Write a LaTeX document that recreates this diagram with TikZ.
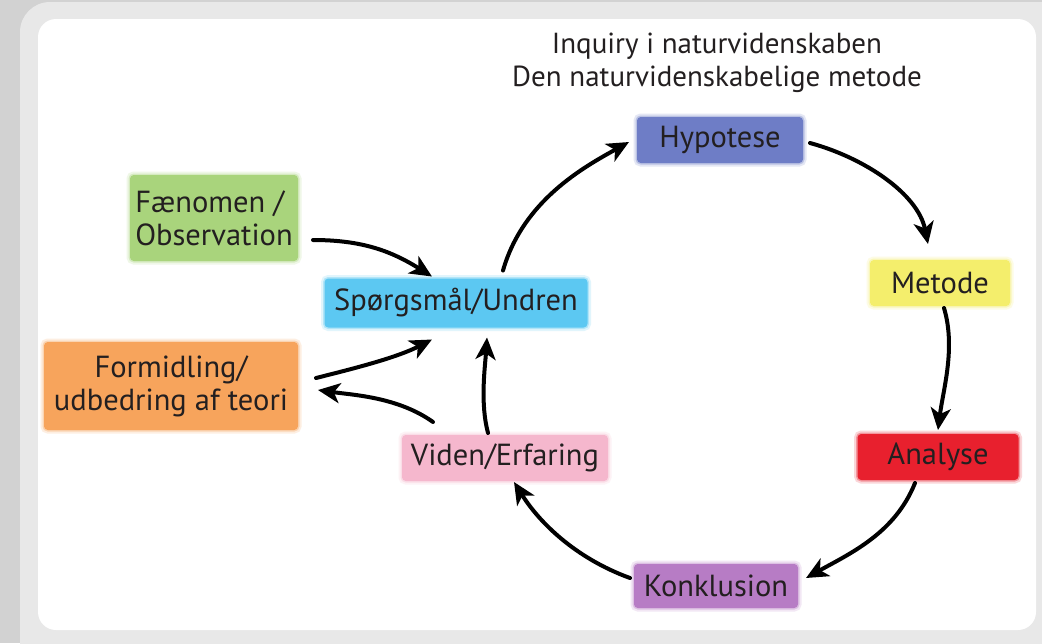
\documentclass[tikz,border=0pt]{standalone}
\usepackage{fontspec}
\setmainfont{PT Sans}
\usetikzlibrary{arrows.meta,calc}
\definecolor{txt}{HTML}{231F20}
\definecolor{cHyp}{HTML}{6E7DC6}
\definecolor{cMet}{HTML}{F4EE6C}
\definecolor{cAna}{HTML}{E8202E}
\definecolor{cKon}{HTML}{B77CC5}
\definecolor{cVid}{HTML}{F5B7CD}
\definecolor{cSpq}{HTML}{5CC8F2}
\definecolor{cFen}{HTML}{A9D47C}
\definecolor{cFor}{HTML}{F7A45C}
\definecolor{bgdark}{HTML}{D2D2D2}
\definecolor{bglight}{HTML}{E8E8E8}
\begin{document}
\begin{tikzpicture}[x=1pt,y=-1pt,
  box/.style={fill=#1, draw=#1, line width=2pt, rounded corners=3pt,
    preaction={draw=#1, line width=9pt, draw opacity=0.18},
    preaction={draw=#1, line width=5pt, draw opacity=0.35},
    text=txt, inner sep=0pt, font=\fontsize{30.5}{33}\selectfont},
  conn/.style={line width=4pt, draw=black, line cap=round,
    -{Stealth[length=22pt,width=20pt,inset=6pt]}}]
\useasboundingbox (0,0) rectangle (1042,643);
\clip (0,0) rectangle (1042,643);
\fill[bgdark] (0,0) rectangle (1042,643);
\fill[bglight, rounded corners=30pt] (20,2) rectangle (1080,690);
\fill[white, rounded corners=18pt] (38,19) rectangle (1036,630);

\node[text=txt, align=center, font=\fontsize{29}{33}\selectfont] (title) at (717,63)
  {Inquiry i naturvidenskaben\\Den naturvidenskabelige metode};

\node[box=cHyp, minimum width=164pt, minimum height=44pt] (hyp) at (720,140) {Hypotese};
\node[box=cMet, minimum width=138pt, minimum height=44pt] (met) at (940,283) {Metode};
\node[box=cAna, minimum width=159pt, minimum height=44pt] (ana) at (938,457) {Analyse};
\node[box=cKon, minimum width=162pt, minimum height=42pt] (kon) at (716,586) {Konklusion};
\node[box=cVid, minimum width=204pt, minimum height=44pt] (vid) at (505,458) {Viden/Erfaring};
\node[box=cSpq, minimum width=261pt, minimum height=47pt] (spq) at (456,303) {Spørgsmål/Undren};
\node[box=cFen, minimum width=166pt, minimum height=84pt, align=left] (fen) at (214,218) {Fænomen /\\Observation};
\node[box=cFor, minimum width=252pt, minimum height=86pt, align=center] (for) at (171,386) {Formidling/\\udbedring af teori};

\draw[conn] ($(fen.east)+(15,22)$) .. controls +(50,0) and +(-40,-25) .. ($(spq.north)+(-24,-2)$);
\draw[conn] ($(spq.north)+(47,-8)$) .. controls +(20,-70) and +(-45,25) .. ($(hyp.west)+(-8,2)$);
\draw[conn] ($(hyp.east)+(7,3)$) .. controls +(55,15) and +(-10,-50) .. ($(met.north)+(-12,-16)$);
\draw[conn] ($(met.south)+(4,2)$) .. controls +(12,40) and +(5,-40) .. ($(ana.north)+(0,-4)$);
\draw[conn] ($(ana.south)+(-23,3)$) .. controls +(-20,50) and +(45,-25) .. ($(kon.east)+(8,-8)$);
\draw[conn] ($(kon.west)+(-4,-8)$) .. controls +(-55,-20) and +(25,40) .. ($(vid.south)+(9,1)$);
\draw[conn] ($(vid.north)+(-17,-2)$) .. controls +(-8,-30) and +(-2,30) .. ($(spq.south)+(31,10)$);
\draw[conn] ($(for.east)+(18,-8)$) .. controls +(40,-10) and +(-35,18) .. ($(spq.south)+(-24,12)$);
\draw[conn] ($(vid.north)+(-72,-13)$) .. controls +(-35,-25) and +(35,5) .. ($(for.east)+(20,4)$);
\end{tikzpicture}
\end{document}
